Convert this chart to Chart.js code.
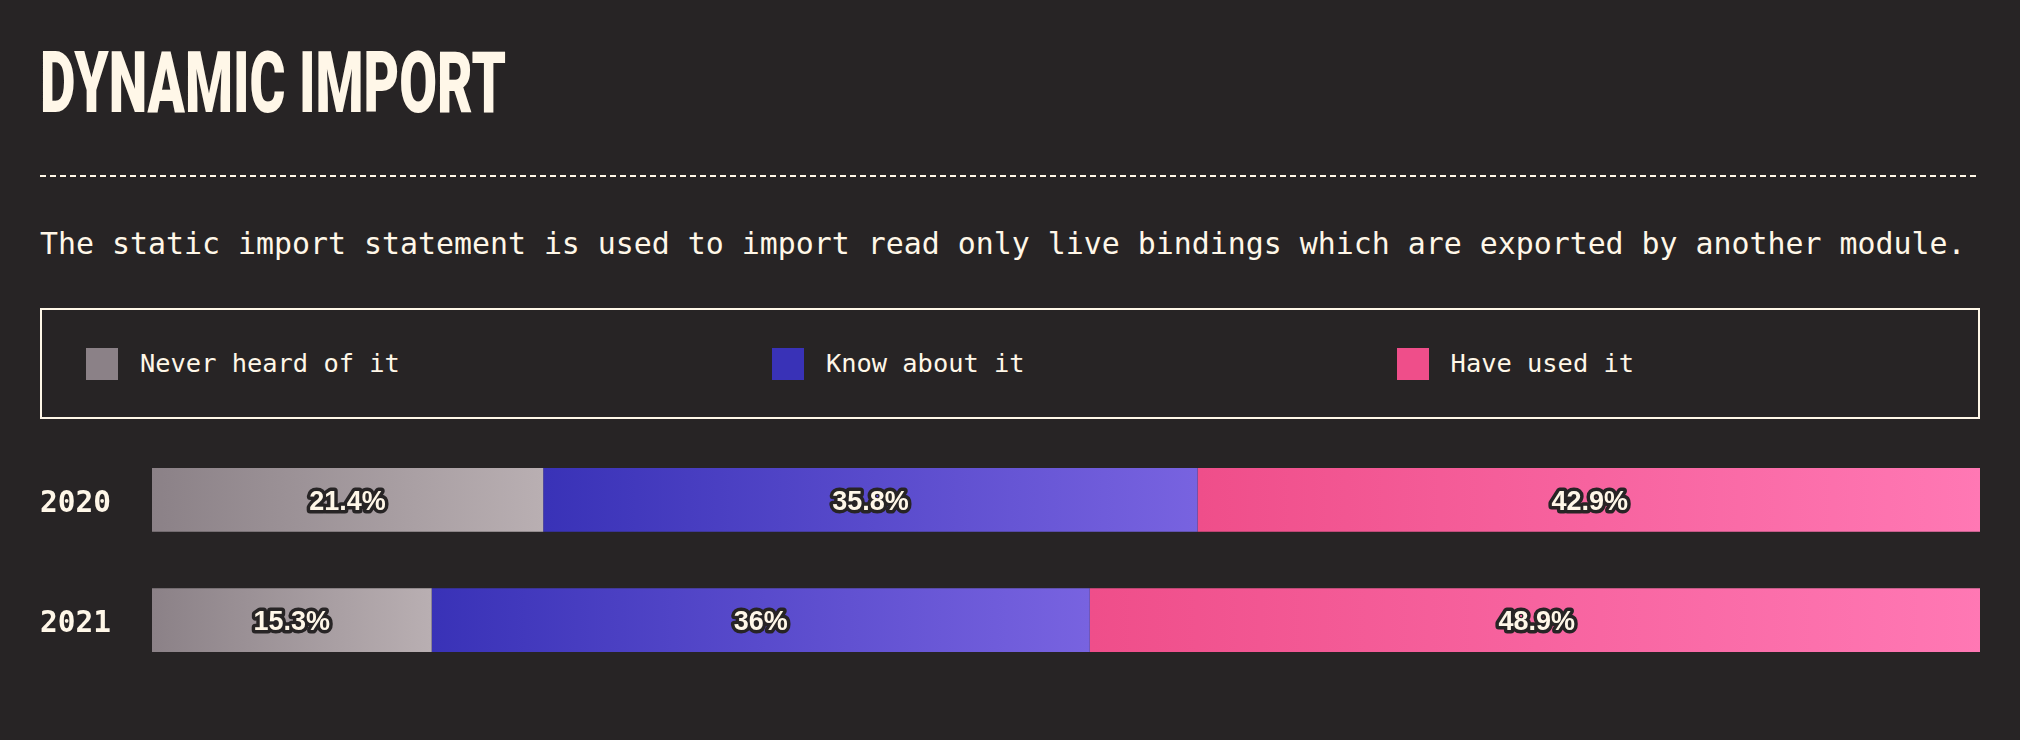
<!DOCTYPE html>
<html>
<head>
<meta charset="utf-8">
<script src="https://cdn.jsdelivr.net/npm/chart.js@4"></script>
<style>
  html, body { margin: 0; padding: 0; background: #272425; width: 2020px; height: 740px; overflow: hidden; }
  #title { position: absolute; left: 40px; top: 42px; font-family: Roboto, sans-serif; font-weight: 900; font-size: 84.4px; line-height: 1; color: #fff7e8; white-space: nowrap; transform-origin: 0 0; }
  #rule { position: absolute; left: 40px; top: 175px; width: 1940px; height: 2px;
    background: repeating-linear-gradient(to right, #fff7e8 0 6px, transparent 6px 10px); }
  #desc { position: absolute; left: 40px; top: 229px; font-family: "DejaVu Sans Mono", monospace; font-size: 29.9px; line-height: 1; color: #fff7e8; white-space: nowrap; }
  #legend { position: absolute; left: 40px; top: 308px; width: 1940px; height: 111px; border: 2px solid #fff7e8; display: flex; align-items: center; padding-left: 44px; box-sizing: border-box; gap: 372px; }
  #legend .item { display: flex; align-items: center; }
  #legend .sw { width: 32px; height: 32px; margin-right: 22px; }
  #legend .lab { font-family: "DejaVu Sans Mono", monospace; font-size: 25.4px; line-height: 1; color: #fff7e8; white-space: nowrap; }
  #wrap { position: absolute; left: 40px; top: 422px; width: 1940px; height: 276px; }
</style>
</head>
<body>
<div id="title">DYNAMIC IMPORT</div>
<div id="rule"></div>
<div id="desc">The static import statement is used to import read only live bindings which are exported by another module.</div>
<div id="legend"></div>
<div id="wrap"><canvas id="c"></canvas></div>
<script>
const years = ['2020', '2021'];
const seriesNames = ['Never heard of it', 'Know about it', 'Have used it'];
const neverHeard = [21.4, 15.3];
const knowAbout = [35.8, 36];
const haveUsed = [42.9, 48.9];
const startColors = ['#8b8187', '#3932b7', '#ef4e8a'];
const endColors = ['#b9afb2', '#7863e0', '#ff78b4'];

// fit title width
(function(){
  const t = document.getElementById('title');
  const w = t.getBoundingClientRect().width;
  t.style.transform = 'scaleX(' + (466 / w) + ')';
})();

// legend
const legend = document.getElementById('legend');
seriesNames.forEach((n, i) => {
  const it = document.createElement('div'); it.className = 'item';
  const sw = document.createElement('div'); sw.className = 'sw'; sw.style.background = startColors[i];
  const lb = document.createElement('div'); lb.className = 'lab'; lb.textContent = n;
  it.appendChild(sw); it.appendChild(lb); legend.appendChild(it);
});

const seriesValues = [neverHeard, knowAbout, haveUsed];

function gradientFor(dsIndex) {
  return function(ctx) {
    const chart = ctx.chart;
    const xs = chart.scales && chart.scales.x;
    if (!xs || !chart.chartArea || ctx.type !== 'data') return startColors[dsIndex];
    const di = ctx.dataIndex;
    let start = 0;
    for (let k = 0; k < dsIndex; k++) start += seriesValues[k][di];
    const end = start + seriesValues[dsIndex][di];
    const x0 = xs.getPixelForValue(start), x1 = xs.getPixelForValue(end);
    const g = chart.ctx.createLinearGradient(x0, 0, x1, 0);
    g.addColorStop(0, startColors[dsIndex]);
    g.addColorStop(1, endColors[dsIndex]);
    return g;
  };
}

const labelPlugin = {
  id: 'segLabels',
  afterDatasetsDraw(chart) {
    const c = chart.ctx;
    const fs = 27;
    c.save();
    c.font = 'bold ' + fs + 'px "Liberation Sans", Arial, sans-serif';
    c.textAlign = 'center';
    c.textBaseline = 'alphabetic';
    c.lineJoin = 'round';
    c.lineWidth = 7;
    c.strokeStyle = '#272425';
    c.fillStyle = '#fff7e8';
    chart.data.datasets.forEach((ds, i) => {
      const meta = chart.getDatasetMeta(i);
      meta.data.forEach((el, j) => {
        const cx = (el.x + el.base) / 2;
        const cy = el.y + fs * 0.36;
        const txt = String(ds.data[j]) + '%';
        c.strokeText(txt, cx, cy);
        c.fillText(txt, cx, cy);
      });
    });
    c.restore();
  }
};

new Chart(document.getElementById('c'), {
  type: 'bar',
  data: {
    labels: years,
    datasets: seriesNames.map((n, i) => ({
      label: n,
      data: seriesValues[i],
      backgroundColor: gradientFor(i),
      borderWidth: 0,
      barPercentage: 0.531,
      categoryPercentage: 1
    }))
  },
  options: {
    indexAxis: 'y',
    responsive: true,
    maintainAspectRatio: false,
    animation: false,
    layout: { padding: 0 },
    plugins: { legend: { display: false }, tooltip: { enabled: false } },
    scales: {
      x: { stacked: true, min: 0, max: 100, display: false },
      y: {
        stacked: true,
        grid: { display: false },
        border: { display: false },
        afterFit(scale) { scale.width = 112; },
        ticks: {
          crossAlign: 'far',
          padding: 0,
          labelOffset: 4,
          color: '#fff7e8',
          font: { family: '"DejaVu Sans Mono", monospace', weight: 'bold', size: 29.5 }
        }
      }
    }
  },
  plugins: [labelPlugin]
});
</script>
</body>
</html>
